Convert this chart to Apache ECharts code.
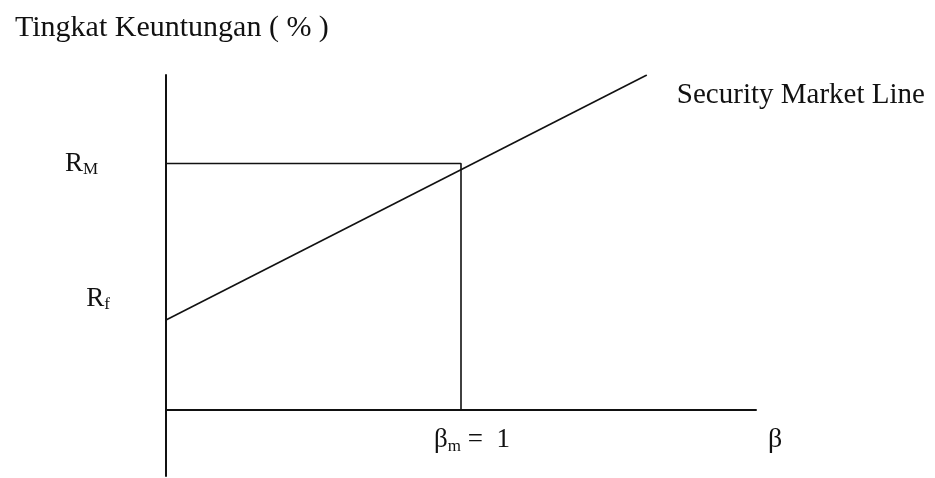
<!DOCTYPE html>
<html>
<head>
<meta charset="utf-8">
<script src="https://cdn.jsdelivr.net/npm/echarts@6/dist/echarts.min.js"></script>
<style>
  html, body { margin: 0; padding: 0; background: #fff; }
  #chart { width: 935px; height: 478px; }
</style>
</head>
<body>
<div id="chart"></div>
<script>
// data (beta, return %)
var smlLine = [[0, 3.64], [1.63, 13.6]];
var marketGuide = [[0, 10], [1, 10], [1, 0]];
var yTickValues = [10, 4.5];
var yTickNames = ['{r|R}{s|M}{gap|}', '{r|R}{s|f}'];
var betaMarket = [1, 0];
var betaMarketName = '{r|β}{s|m}{r| =  1}';

var font = '"Liberation Serif", "DejaVu Serif", serif';
var ink = '#111';

var myChart = echarts.init(document.getElementById('chart'));

//标签富文本
var richText = {
    r: { fontFamily: font, fontSize: 27, color: ink },
    s: { fontFamily: font, fontSize: 17, color: ink, padding: [12, 0, 0, 0] },
    gap: { width: 12 }
};

myChart.setOption({
    animation: false,
    backgroundColor: '#fff',
    title: {
        text: 'Tingkat Keuntungan ( % )',
        left: 10,
        top: 8,
        textStyle: { fontFamily: font, fontSize: 30, fontWeight: 'normal', color: ink }
    },
    grid: { left: 166, right: 179, top: 75, bottom: 2, outerBoundsMode: 'none', containLabel: false },
    xAxis: {
        type: 'value',
        min: 0,
        max: 2,
        name: 'β',
        nameLocation: 'end',
        nameGap: 12,
        nameTextStyle: { fontFamily: font, fontSize: 28, color: ink, verticalAlign: 'top', padding: [16, 0, 0, 0] },
        axisLine: { onZero: true, lineStyle: { color: ink, width: 2 } },
        axisTick: { show: false },
        splitLine: { show: false },
        axisLabel: { show: false }
    },
    yAxis: {
        type: 'value',
        min: -2.7,
        max: 13.6,
        axisLine: { show: true, onZero: false, lineStyle: { color: ink, width: 2 } },
        axisTick: { show: false },
        splitLine: { show: false },
        axisLabel: {
            customValues: yTickValues,
            margin: 56,
            formatter: function(v) {
                return yTickNames[yTickValues.indexOf(v)] || '';
            },
            rich: richText
        }
    },
    series: [
        {
            name: 'Security Market Line',
            type: 'line',
            data: smlLine,
            symbol: 'none',
            lineStyle: { color: ink, width: 1.6 },
            endLabel: {
                show: true,
                formatter: 'Security Market Line',
                fontFamily: font,
                fontSize: 29,
                color: ink,
                offset: [22, 20]
            }
        },
        {
            name: 'guide',
            type: 'line',
            data: marketGuide,
            symbol: 'none',
            lineStyle: { color: ink, width: 1.6 },
            markPoint: {
                symbol: 'circle',
                symbolSize: 0,
                data: [{ coord: betaMarket }],
                label: {
                    show: true,
                    position: 'bottom',
                    distance: 16,
                    offset: [11, 0],
                    formatter: betaMarketName,
                    rich: richText
                }
            }
        }
    ]
});
</script>
</body>
</html>
